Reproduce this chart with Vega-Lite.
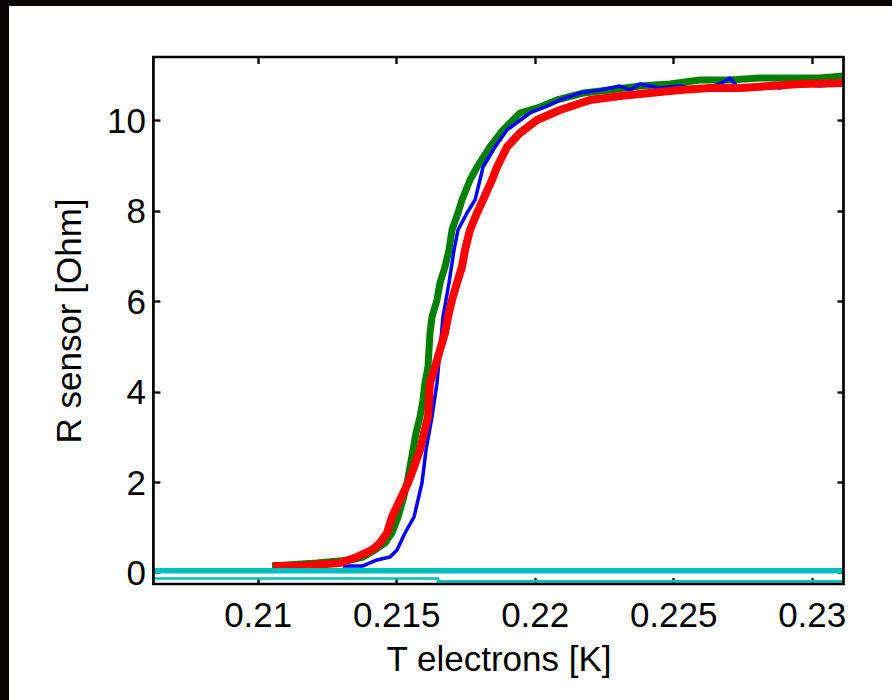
{
  "$schema": "https://vega.github.io/schema/vega-lite/v6.json",
  "width": 883,
  "height": 694,
  "autosize": {"type": "none"},
  "padding": {"left": 9, "top": 6, "right": 0, "bottom": 0},
  "background": "#0a0505",
  "config": {
    "view": {"fill": "white", "stroke": null},
    "font": "Liberation Sans"
  },
  "resolve": {"axis": {"x": "independent", "y": "independent"}},
  "data": {
    "values": [
      {"s": "green", "T": 0.210516, "R": 0.144},
      {"s": "green", "T": 0.212141, "R": 0.21},
      {"s": "green", "T": 0.213332, "R": 0.277},
      {"s": "green", "T": 0.213801, "R": 0.343},
      {"s": "green", "T": 0.214235, "R": 0.498},
      {"s": "green", "T": 0.214596, "R": 0.653},
      {"s": "green", "T": 0.214848, "R": 0.874},
      {"s": "green", "T": 0.215065, "R": 1.228},
      {"s": "green", "T": 0.215245, "R": 1.604},
      {"s": "green", "T": 0.21539, "R": 1.98},
      {"s": "green", "T": 0.215498, "R": 2.334},
      {"s": "green", "T": 0.215606, "R": 2.71},
      {"s": "green", "T": 0.215715, "R": 3.086},
      {"s": "green", "T": 0.215859, "R": 3.44},
      {"s": "green", "T": 0.215967, "R": 3.816},
      {"s": "green", "T": 0.21604, "R": 4.192},
      {"s": "green", "T": 0.216148, "R": 4.546},
      {"s": "green", "T": 0.216184, "R": 4.923},
      {"s": "green", "T": 0.21622, "R": 5.299},
      {"s": "green", "T": 0.216292, "R": 5.653},
      {"s": "green", "T": 0.216473, "R": 6.029},
      {"s": "green", "T": 0.216581, "R": 6.405},
      {"s": "green", "T": 0.216762, "R": 6.759},
      {"s": "green", "T": 0.216906, "R": 7.135},
      {"s": "green", "T": 0.217014, "R": 7.577},
      {"s": "green", "T": 0.217231, "R": 7.954},
      {"s": "green", "T": 0.217375, "R": 8.241},
      {"s": "green", "T": 0.217664, "R": 8.684},
      {"s": "green", "T": 0.217917, "R": 8.971},
      {"s": "green", "T": 0.218386, "R": 9.414},
      {"s": "green", "T": 0.218856, "R": 9.79},
      {"s": "green", "T": 0.219469, "R": 10.166},
      {"s": "green", "T": 0.220191, "R": 10.299},
      {"s": "green", "T": 0.220805, "R": 10.454},
      {"s": "green", "T": 0.221744, "R": 10.608},
      {"s": "green", "T": 0.222718, "R": 10.675},
      {"s": "green", "T": 0.223801, "R": 10.763},
      {"s": "green", "T": 0.224884, "R": 10.808},
      {"s": "green", "T": 0.225968, "R": 10.896},
      {"s": "green", "T": 0.227051, "R": 10.896},
      {"s": "green", "T": 0.228134, "R": 10.94},
      {"s": "green", "T": 0.229217, "R": 10.94},
      {"s": "green", "T": 0.2303, "R": 10.94},
      {"s": "green", "T": 0.231148, "R": 10.985},

      {"s": "blue", "T": 0.213079, "R": 0.144},
      {"s": "blue", "T": 0.213801, "R": 0.144},
      {"s": "blue", "T": 0.214307, "R": 0.277},
      {"s": "blue", "T": 0.214776, "R": 0.343},
      {"s": "blue", "T": 0.215029, "R": 0.498},
      {"s": "blue", "T": 0.215318, "R": 0.874},
      {"s": "blue", "T": 0.215643, "R": 1.228},
      {"s": "blue", "T": 0.215787, "R": 1.604},
      {"s": "blue", "T": 0.215931, "R": 1.98},
      {"s": "blue", "T": 0.216076, "R": 2.71},
      {"s": "blue", "T": 0.216292, "R": 3.44},
      {"s": "blue", "T": 0.216473, "R": 4.192},
      {"s": "blue", "T": 0.216581, "R": 4.923},
      {"s": "blue", "T": 0.216689, "R": 5.653},
      {"s": "blue", "T": 0.216906, "R": 6.405},
      {"s": "blue", "T": 0.217087, "R": 7.135},
      {"s": "blue", "T": 0.217231, "R": 7.577},
      {"s": "blue", "T": 0.217556, "R": 7.954},
      {"s": "blue", "T": 0.217845, "R": 8.241},
      {"s": "blue", "T": 0.218025, "R": 8.684},
      {"s": "blue", "T": 0.218134, "R": 8.971},
      {"s": "blue", "T": 0.218567, "R": 9.414},
      {"s": "blue", "T": 0.219, "R": 9.79},
      {"s": "blue", "T": 0.21983, "R": 10.166},
      {"s": "blue", "T": 0.220372, "R": 10.299},
      {"s": "blue", "T": 0.220913, "R": 10.454},
      {"s": "blue", "T": 0.221635, "R": 10.608},
      {"s": "blue", "T": 0.222357, "R": 10.675},
      {"s": "blue", "T": 0.223079, "R": 10.763},
      {"s": "blue", "T": 0.22344, "R": 10.675},
      {"s": "blue", "T": 0.223801, "R": 10.808},
      {"s": "blue", "T": 0.224523, "R": 10.719},
      {"s": "blue", "T": 0.225245, "R": 10.763},
      {"s": "blue", "T": 0.225968, "R": 10.675},
      {"s": "blue", "T": 0.22669, "R": 10.808},
      {"s": "blue", "T": 0.227051, "R": 10.94},
      {"s": "blue", "T": 0.227412, "R": 10.675},
      {"s": "blue", "T": 0.228134, "R": 10.763},
      {"s": "blue", "T": 0.228856, "R": 10.719},
      {"s": "blue", "T": 0.229578, "R": 10.808},
      {"s": "blue", "T": 0.2303, "R": 10.763},
      {"s": "blue", "T": 0.231148, "R": 10.808},

      {"s": "red", "T": 0.210552, "R": 0.144},
      {"s": "red", "T": 0.211527, "R": 0.144},
      {"s": "red", "T": 0.212971, "R": 0.21},
      {"s": "red", "T": 0.213585, "R": 0.343},
      {"s": "red", "T": 0.214126, "R": 0.498},
      {"s": "red", "T": 0.214415, "R": 0.653},
      {"s": "red", "T": 0.214668, "R": 0.874},
      {"s": "red", "T": 0.214848, "R": 1.228},
      {"s": "red", "T": 0.215137, "R": 1.604},
      {"s": "red", "T": 0.215426, "R": 1.98},
      {"s": "red", "T": 0.215643, "R": 2.334},
      {"s": "red", "T": 0.215859, "R": 2.71},
      {"s": "red", "T": 0.216004, "R": 3.086},
      {"s": "red", "T": 0.216148, "R": 3.44},
      {"s": "red", "T": 0.216184, "R": 3.816},
      {"s": "red", "T": 0.21622, "R": 4.192},
      {"s": "red", "T": 0.216401, "R": 4.546},
      {"s": "red", "T": 0.216581, "R": 4.923},
      {"s": "red", "T": 0.216762, "R": 5.299},
      {"s": "red", "T": 0.21687, "R": 5.653},
      {"s": "red", "T": 0.217014, "R": 6.029},
      {"s": "red", "T": 0.217195, "R": 6.405},
      {"s": "red", "T": 0.217375, "R": 6.759},
      {"s": "red", "T": 0.217484, "R": 7.135},
      {"s": "red", "T": 0.217664, "R": 7.577},
      {"s": "red", "T": 0.217917, "R": 7.954},
      {"s": "red", "T": 0.218134, "R": 8.241},
      {"s": "red", "T": 0.218458, "R": 8.684},
      {"s": "red", "T": 0.218639, "R": 8.971},
      {"s": "red", "T": 0.219, "R": 9.414},
      {"s": "red", "T": 0.219469, "R": 9.723},
      {"s": "red", "T": 0.220083, "R": 10.011},
      {"s": "red", "T": 0.220913, "R": 10.232},
      {"s": "red", "T": 0.221996, "R": 10.454},
      {"s": "red", "T": 0.223079, "R": 10.542},
      {"s": "red", "T": 0.224162, "R": 10.608},
      {"s": "red", "T": 0.225245, "R": 10.675},
      {"s": "red", "T": 0.226329, "R": 10.719},
      {"s": "red", "T": 0.227412, "R": 10.719},
      {"s": "red", "T": 0.228495, "R": 10.763},
      {"s": "red", "T": 0.229578, "R": 10.808},
      {"s": "red", "T": 0.231148, "R": 10.83},

      {"s": "cyan thick", "T": 0.206235, "R": 0.04},
      {"s": "cyan thick", "T": 0.231148, "R": 0.04},

      {"s": "cyan thin", "T": 0.206235, "R": -0.133},
      {"s": "cyan thin", "T": 0.216509, "R": -0.195},
      {"s": "cyan thin", "T": 0.231148, "R": -0.195}
    ]
  },
  "layer": [
    {
      "transform": [{"filter": "datum.s === 'green'"}],
      "mark": {"type": "line", "color": "#008000", "strokeWidth": 7, "strokeJoin": "round"},
      "encoding": {
        "x": {
          "field": "T", "type": "quantitative",
          "scale": {"domain": [0.201022, 0.232899], "nice": false, "zero": false},
          "axis": {
            "orient": "bottom", "offset": -116,
            "values": [0.21, 0.215, 0.22, 0.225, 0.23], "format": "~g",
            "domain": false, "grid": false,
            "tickSize": -6.5, "tickWidth": 2.3, "tickColor": "black",
            "labelFontSize": 35, "labelColor": "black", "labelPadding": 20.5,
            "labelFlush": false, "labelOverlap": false,
            "title": "T electrons [K]", "titleFontSize": 35, "titleFontWeight": "normal",
            "titleColor": "black", "titleX": 489.5, "titleY": 86,
            "titleBaseline": "alphabetic", "titleAlign": "center"
          }
        },
        "y": {
          "field": "R", "type": "quantitative",
          "scale": {"domain": [-2.821, 12.533], "nice": false, "zero": false},
          "axis": {
            "orient": "left", "offset": -144.4,
            "values": [0, 2, 4, 6, 8, 10],
            "domain": false, "grid": false,
            "tickSize": -6.5, "tickWidth": 2.3, "tickColor": "black",
            "labelFontSize": 35, "labelColor": "black", "labelPadding": 14.5,
            "labelOffset": 1, "labelFlush": false, "labelOverlap": false,
            "title": "R sensor [Ohm]", "titleFontSize": 35, "titleFontWeight": "normal",
            "titleColor": "black", "titleX": -72.8, "titleY": 314.5,
            "titleBaseline": "alphabetic", "titleAlign": "center", "titleAngle": 270
          }
        }
      }
    },
    {
      "transform": [{"filter": "datum.s === 'blue'"}],
      "mark": {"type": "line", "color": "#0000ff", "strokeWidth": 3.5, "strokeJoin": "round"},
      "encoding": {
        "x": {"field": "T", "type": "quantitative", "axis": null},
        "y": {"field": "R", "type": "quantitative", "axis": null}
      }
    },
    {
      "transform": [{"filter": "datum.s === 'red'"}],
      "mark": {"type": "line", "color": "#ff0000", "strokeWidth": 8, "strokeJoin": "round"},
      "encoding": {
        "x": {"field": "T", "type": "quantitative", "axis": null},
        "y": {"field": "R", "type": "quantitative", "axis": null}
      }
    },
    {
      "transform": [{"filter": "datum.s === 'cyan thick'"}],
      "mark": {"type": "line", "color": "#00bfbf", "strokeWidth": 5.5},
      "encoding": {
        "x": {"field": "T", "type": "quantitative", "axis": null},
        "y": {"field": "R", "type": "quantitative", "axis": null}
      }
    },
    {
      "transform": [{"filter": "datum.s === 'cyan thin'"}],
      "mark": {"type": "line", "color": "#00bfbf", "strokeWidth": 2.7, "interpolate": "step-after"},
      "encoding": {
        "x": {"field": "T", "type": "quantitative", "axis": null},
        "y": {"field": "R", "type": "quantitative", "axis": null}
      }
    },
    {
      "data": {"values": [{}]},
      "mark": {"type": "rect", "fillOpacity": 0, "stroke": "black", "strokeWidth": 2.7},
      "encoding": {
        "x": {
          "datum": 0.206235, "type": "quantitative",
          "axis": {
            "orient": "top", "offset": -51,
            "values": [0.21, 0.215, 0.22, 0.225, 0.23],
            "domain": false, "grid": false, "labels": false, "title": null,
            "tickSize": -6.5, "tickWidth": 2.3, "tickColor": "black"
          }
        },
        "x2": {"datum": 0.231148},
        "y": {
          "datum": -0.2544, "type": "quantitative",
          "axis": {
            "orient": "right", "offset": -48.5,
            "values": [0, 2, 4, 6, 8, 10],
            "domain": false, "grid": false, "labels": false, "title": null,
            "tickSize": -6.5, "tickWidth": 2.3, "tickColor": "black"
          }
        },
        "y2": {"datum": 11.405}
      }
    }
  ]
}
